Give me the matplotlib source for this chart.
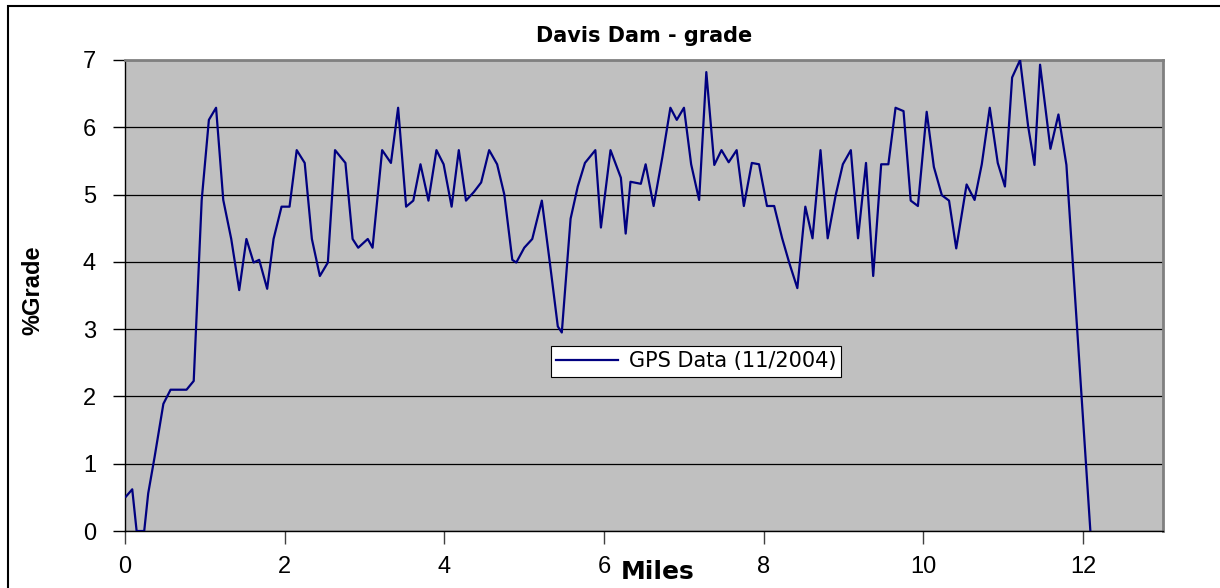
import matplotlib
matplotlib.use("Agg")
import matplotlib.pyplot as plt
from matplotlib.patches import Rectangle

# ---- data ----
miles = [0.01, 0.09, 0.145, 0.24, 0.29, 0.37, 0.48, 0.57, 0.77, 0.86,
         0.96, 1.05, 1.14, 1.23, 1.33, 1.43, 1.52, 1.61, 1.68, 1.78,
         1.86, 1.96, 2.06, 2.15, 2.25, 2.34, 2.44, 2.54, 2.63, 2.76,
         2.85, 2.92, 3.04, 3.10, 3.22, 3.33, 3.42, 3.52, 3.61, 3.70,
         3.80, 3.90, 3.99, 4.09, 4.18, 4.27, 4.37, 4.46, 4.56, 4.66,
         4.75, 4.85, 4.90, 5.00, 5.10, 5.22, 5.32, 5.42, 5.47, 5.58,
         5.67, 5.76, 5.89, 5.96, 6.08, 6.21, 6.27, 6.33, 6.46, 6.52,
         6.62, 6.73, 6.83, 6.91, 7.00, 7.09, 7.19, 7.28, 7.38, 7.47,
         7.56, 7.66, 7.75, 7.85, 7.94, 8.04, 8.13, 8.23, 8.32, 8.42,
         8.52, 8.61, 8.71, 8.80, 8.90, 8.99, 9.09, 9.18, 9.28, 9.37,
         9.47, 9.56, 9.65, 9.75, 9.84, 9.93, 10.04, 10.13, 10.23, 10.32,
         10.41, 10.54, 10.64, 10.73, 10.83, 10.93, 11.02, 11.11, 11.21, 11.31,
         11.39, 11.46, 11.59, 11.69, 11.79, 12.09]

grade = [0.51, 0.62, 0, 0, 0.56, 1.10, 1.89, 2.10, 2.10, 2.23,
         4.92, 6.11, 6.29, 4.92, 4.34, 3.58, 4.34, 3.99, 4.03, 3.60,
         4.34, 4.82, 4.82, 5.66, 5.47, 4.34, 3.79, 3.99, 5.66, 5.47,
         4.34, 4.21, 4.34, 4.21, 5.66, 5.47, 6.29, 4.82, 4.91, 5.45,
         4.91, 5.66, 5.45, 4.82, 5.66, 4.91, 5.04, 5.18, 5.66, 5.45,
         5.00, 4.03, 3.99, 4.21, 4.34, 4.91, 3.99, 3.04, 2.95, 4.64,
         5.12, 5.47, 5.66, 4.51, 5.66, 5.25, 4.42, 5.19, 5.16, 5.45,
         4.83, 5.56, 6.29, 6.11, 6.29, 5.45, 4.92, 6.82, 5.44, 5.66,
         5.48, 5.66, 4.83, 5.47, 5.45, 4.83, 4.83, 4.35, 3.98, 3.61,
         4.82, 4.35, 5.66, 4.35, 4.99, 5.45, 5.66, 4.35, 5.47, 3.79,
         5.45, 5.45, 6.29, 6.24, 4.91, 4.83, 6.23, 5.41, 4.99, 4.91,
         4.20, 5.15, 4.92, 5.45, 6.29, 5.47, 5.12, 6.74, 7.00, 6.02,
         5.44, 6.93, 5.68, 6.19, 5.44, 0]

x_ticks = [0, 2, 4, 6, 8, 10, 12]
y_ticks = [0, 1, 2, 3, 4, 5, 6, 7]

plt.rcParams["font.family"] = ["Liberation Sans", "DejaVu Sans"]

fig = plt.figure(figsize=(12.2, 5.88), dpi=100)
ax = fig.add_axes([0.1025, 0.0969, 0.8508, 0.8011])

# outer chart frame
fig.patches.append(Rectangle((8 / 1220, -0.05), 1.2, 1.05 - 6 / 588,
                             transform=fig.transFigure, fill=False,
                             edgecolor="black", linewidth=1.5, zorder=0))

ax.set_facecolor("#C0C0C0")
ax.plot(miles, grade, color="#000080", linewidth=1.6, label="GPS Data (11/2004)",
        zorder=3)

ax.set_xlim(0, 13)
ax.set_ylim(0, 7)
ax.set_xticks(x_ticks)
ax.set_yticks(y_ticks)
ax.yaxis.grid(True, color="black", linewidth=0.9)
ax.set_axisbelow(True)

for side in ["top", "right"]:
    ax.spines[side].set_color("#808080")
    ax.spines[side].set_linewidth(2)
for side in ["left", "bottom"]:
    ax.spines[side].set_color("black")
    ax.spines[side].set_linewidth(1)

ax.tick_params(axis="y", direction="out", length=9, width=1, pad=12, labelsize=17)
ax.tick_params(axis="x", direction="out", length=9, width=1, color="#404040",
               pad=9, labelsize=17)

ax.set_title("Davis Dam - grade", fontsize=15, fontweight="bold", pad=13,
             family=["DejaVu Sans"])
# x label sits just right of the "6" tick label (overlaps it in the original)
fig.text(658 / 1220, 1 - 572 / 588, "Miles", ha="center", va="center",
         fontsize=18, fontweight="bold", family=["DejaVu Sans"])
fig.text(33 / 1220, 1 - 290 / 588, "%Grade", ha="center", va="center",
         rotation=90, fontsize=17, fontweight="bold")

leg = ax.legend(loc="center", bbox_to_anchor=(0.55, 0.36), fontsize=15,
                frameon=True, fancybox=False, handlelength=3.0,
                borderpad=0.25, handletextpad=0.5, borderaxespad=0)
leg.get_frame().set_edgecolor("black")
leg.get_frame().set_linewidth(0.8)
leg.get_frame().set_facecolor("white")
leg.get_frame().set_alpha(1)
for t in leg.get_texts():
    t.set_family(["DejaVu Sans"])

fig.savefig("out.png", dpi=100)
